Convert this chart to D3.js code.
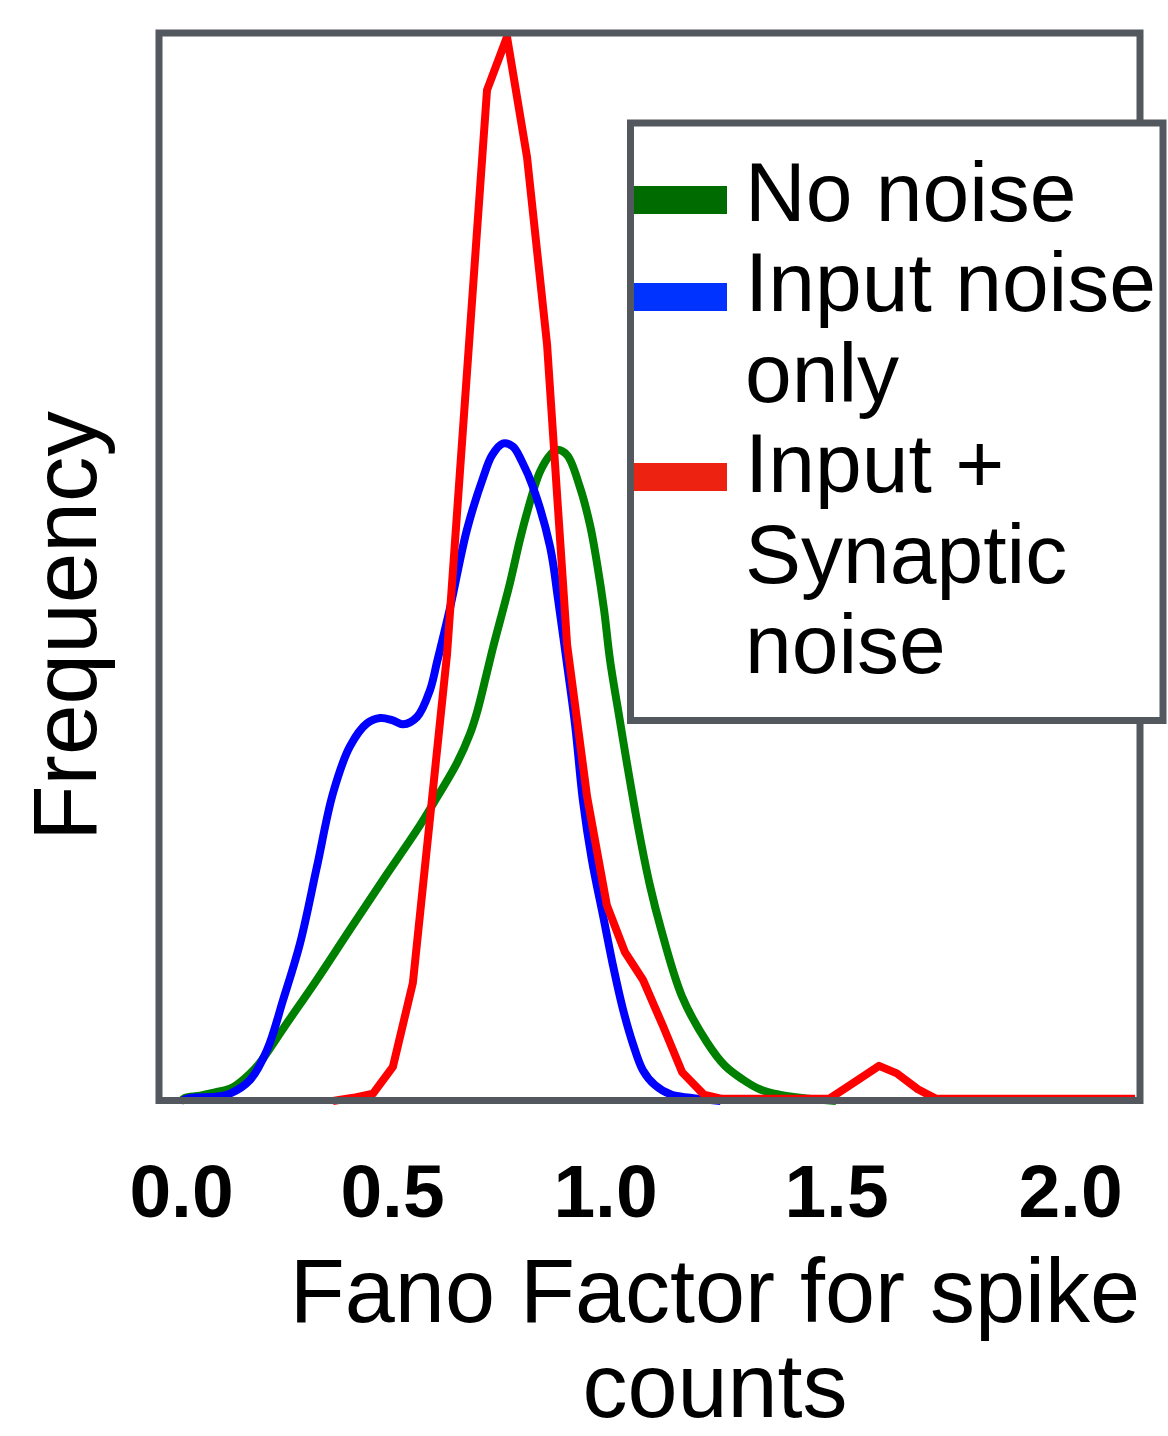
<!DOCTYPE html>
<html>
<head>
<meta charset="utf-8">
<script src="https://cdn.jsdelivr.net/npm/d3@7"></script>
<style>
  html, body { margin: 0; padding: 0; background: #fff; }
  svg { display: block; }
</style>
</head>
<body>
<svg id="chart" width="1168" height="1436"></svg>
<script>
// ---------- data ----------
const xTicks = [0, 0.5, 1.0, 1.5, 2.0];
const tickLabels = ["0.0", "0.5", "1.0", "1.5", "2.0"];
const seriesNames = ["No noise", "Input noise only", "Input + Synaptic noise"];
const legendLines = [["No noise"], ["Input noise", "only"], ["Input +", "Synaptic", "noise"]];
const xTitleLines = ["Fano Factor for spike", "counts"];
const yTitle = "Frequency";

// No noise (green)
const noNoiseX = [0.0, 0.009, 0.045, 0.081, 0.123, 0.164, 0.187, 0.242, 0.322, 0.400, 0.479, 0.559, 0.596, 0.653, 0.683, 0.700, 0.723, 0.737, 0.777, 0.800, 0.817, 0.847, 0.871, 0.887, 0.911, 0.941, 0.965, 0.981, 0.998, 1.011, 1.032, 1.048, 1.074, 1.097, 1.121, 1.167, 1.221, 1.260, 1.299, 1.335, 1.377, 1.422, 1.50];
const noNoiseY = [0.0, 0.003, 0.005, 0.008, 0.013, 0.026, 0.036, 0.068, 0.114, 0.161, 0.208, 0.255, 0.279, 0.318, 0.345, 0.366, 0.403, 0.426, 0.487, 0.527, 0.553, 0.591, 0.607, 0.612, 0.607, 0.577, 0.541, 0.506, 0.461, 0.414, 0.358, 0.316, 0.252, 0.203, 0.162, 0.098, 0.055, 0.033, 0.020, 0.011, 0.006, 0.003, 0.0];

// Input noise only (blue)
const inputX = [0.0, 0.021, 0.081, 0.116, 0.164, 0.204, 0.242, 0.282, 0.322, 0.360, 0.400, 0.441, 0.472, 0.500, 0.526, 0.559, 0.589, 0.606, 0.636, 0.676, 0.714, 0.735, 0.761, 0.784, 0.805, 0.831, 0.871, 0.890, 0.911, 0.930, 0.948, 0.969, 0.995, 1.017, 1.039, 1.061, 1.082, 1.108, 1.143, 1.184, 1.25];
const inputY = [0.0, 0.003, 0.004, 0.007, 0.020, 0.048, 0.095, 0.148, 0.220, 0.289, 0.333, 0.355, 0.360, 0.358, 0.354, 0.361, 0.386, 0.413, 0.463, 0.537, 0.586, 0.607, 0.618, 0.615, 0.601, 0.577, 0.521, 0.471, 0.410, 0.353, 0.283, 0.227, 0.175, 0.128, 0.086, 0.053, 0.029, 0.015, 0.006, 0.003, 0.0];

// Input + Synaptic noise (red)
const synapticX = [0.36, 0.408, 0.455, 0.502, 0.549, 0.629, 0.723, 0.770, 0.817, 0.864, 0.911, 0.958, 1.004, 1.043, 1.082, 1.126, 1.167, 1.214, 1.253, 1.485, 1.530, 1.592, 1.630, 1.675, 1.714, 2.139];
const synapticY = [0.0, 0.003, 0.007, 0.032, 0.111, 0.419, 0.950, 1.000, 0.887, 0.711, 0.429, 0.286, 0.184, 0.140, 0.114, 0.070, 0.027, 0.006, 0.002, 0.002, 0.015, 0.033, 0.026, 0.011, 0.002, 0.002];

const curveColors = ["#008000", "#0000ff", "#ff0000"];
const legendColors = ["#006b00", "#0033ff", "#ee2211"];

// ---------- layout ----------
const svg = d3.select("#chart");
const frame = { left: 159, right: 1140, top: 33, bottom: 1100.5 };

const x = d3.scaleLinear().domain(xTicks).range([181, 392, 605, 836, 1070]);
const y = d3.scaleLinear().domain([0, 1]).range([1101, 37]);

const series = [
  { name: seriesNames[0], xs: noNoiseX, ys: noNoiseY, color: curveColors[0], curve: d3.curveCatmullRom.alpha(0.5) },
  { name: seriesNames[1], xs: inputX, ys: inputY, color: curveColors[1], curve: d3.curveCatmullRom.alpha(0.5) },
  { name: seriesNames[2], xs: synapticX, ys: synapticY, color: curveColors[2], curve: d3.curveLinear }
];

const font = "'Liberation Sans', Arial, Helvetica, sans-serif";

// curves
series.forEach(s => {
  const pts = s.xs.map((v, i) => [v, s.ys[i]]);
  const line = d3.line().x(d => x(d[0])).y(d => y(d[1])).curve(s.curve);
  svg.append("path")
    .datum(pts)
    .attr("d", line)
    .attr("fill", "none")
    .attr("stroke", s.color)
    .attr("stroke-width", 8)
    .attr("stroke-linejoin", "round");
});

// frame
svg.append("rect")
  .attr("x", frame.left).attr("y", frame.top)
  .attr("width", frame.right - frame.left)
  .attr("height", frame.bottom - frame.top)
  .attr("fill", "none")
  .attr("stroke", "#53575e")
  .attr("stroke-width", 7);

// x tick labels via axis
const xAxis = d3.axisBottom(x).tickValues(xTicks).tickFormat((d, i) => tickLabels[i]).tickSize(0);
const gx = svg.append("g").attr("transform", "translate(0,1100)").call(xAxis);
gx.select(".domain").remove();
gx.selectAll("text")
  .attr("y", 117)
  .attr("dy", null)
  .attr("fill", "#000")
  .style("font-family", font)
  .style("font-weight", "bold")
  .style("font-size", "75px");

// x title
const xt = svg.append("text")
  .attr("x", 715).attr("y", 1322)
  .attr("text-anchor", "middle")
  .style("font-family", font)
  .style("font-size", "90px")
  .attr("fill", "#000");
xTitleLines.forEach((t, i) => {
  xt.append("tspan").attr("x", 715).attr("y", 1322 + i * 95).text(t);
});

// y title
svg.append("text")
  .attr("transform", "translate(96,626) rotate(-90)")
  .attr("text-anchor", "middle")
  .style("font-family", font)
  .style("font-size", "91px")
  .attr("fill", "#000")
  .text(yTitle);

// legend
const lg = svg.append("g");
lg.append("rect")
  .attr("x", 630.5).attr("y", 123)
  .attr("width", 1163 - 630.5).attr("height", 720.5 - 123)
  .attr("fill", "#fff")
  .attr("stroke", "#53575e")
  .attr("stroke-width", 7);

const swatchY = [200, 297, 477];
const textStart = [0, 1, 3];
const baseY = 221, step = 90.4;
series.forEach((s, i) => {
  lg.append("line")
    .attr("x1", 634).attr("x2", 727)
    .attr("y1", swatchY[i]).attr("y2", swatchY[i])
    .attr("stroke", legendColors[i])
    .attr("stroke-width", 28);
  legendLines[i].forEach((t, j) => {
    lg.append("text")
      .attr("x", 745)
      .attr("y", baseY + (textStart[i] + j) * step)
      .style("font-family", font)
      .style("font-size", "84px")
      .attr("fill", "#000")
      .text(t);
  });
});
</script>
</body>
</html>
